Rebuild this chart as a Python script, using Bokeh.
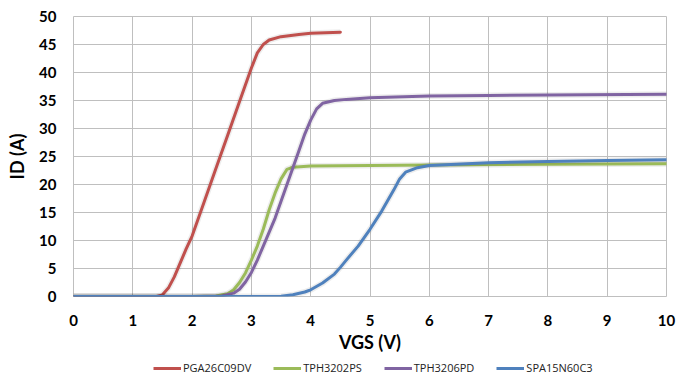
from bokeh.plotting import figure
from bokeh.models import Legend, LegendItem, Range1d, FixedTicker
from bokeh.layouts import column
from bokeh.embed import file_html
from bokeh.resources import INLINE

# ---- data ----
series_names = ["PGA26C09DV", "TPH3202PS", "TPH3206PD", "SPA15N60C3"]
series_colors = ["#C0504D", "#9BBB59", "#8064A2", "#4F81BD"]

pga_x = [0, 1.0, 1.4, 1.5, 1.6, 1.7, 1.8, 1.9, 2.0, 2.2, 2.4, 2.6, 2.8, 3.0, 3.1, 3.2, 3.3, 3.5, 3.8, 4.0, 4.5]
pga_y = [0, 0, 0, 0.3, 1.5, 3.5, 6, 8.5, 10.8, 16.8, 22.8, 28.8, 34.8, 40.8, 43.5, 45, 45.8, 46.4, 46.8, 47.0, 47.2]

tph02_x = [0, 2.0, 2.4, 2.6, 2.7, 2.8, 2.9, 3.0, 3.1, 3.2, 3.3, 3.4, 3.5, 3.6, 3.7, 4.0, 5.0, 6.0, 8.0, 10.0]
tph02_y = [0, 0, 0.1, 0.5, 1.2, 2.5, 4.2, 6.5, 9, 12, 15.5, 18.5, 21, 22.7, 23.1, 23.3, 23.4, 23.5, 23.6, 23.7]

tph06_x = [0, 2.0, 2.5, 2.7, 2.8, 2.9, 3.0, 3.1, 3.2, 3.3, 3.4, 3.5, 3.6, 3.7, 3.8, 3.9, 4.0, 4.1, 4.2, 4.4, 4.6, 5.0, 6.0, 7.0, 8.0, 10.0]
tph06_y = [0, 0, 0.1, 0.6, 1.3, 2.6, 4.3, 6.5, 9, 11.5, 14, 17, 20, 23, 26, 29, 31.5, 33.5, 34.5, 35, 35.2, 35.5, 35.8, 35.9, 36.0, 36.1]

spa_x = [0, 3.0, 3.5, 3.7, 3.9, 4.0, 4.2, 4.4, 4.5, 4.6, 4.8, 5.0, 5.2, 5.4, 5.5, 5.6, 5.8, 6.0, 7.0, 8.0, 9.0, 10.0]
spa_y = [0, 0, 0.05, 0.3, 0.8, 1.2, 2.4, 4.0, 5.2, 6.5, 9, 12, 15.3, 19, 21, 22.2, 23, 23.4, 23.9, 24.1, 24.3, 24.4]

x_ticks = list(range(0, 11))
y_ticks = list(range(0, 51, 5))

series_x = [pga_x, tph02_x, tph06_x, spa_x]
series_y = [pga_y, tph02_y, tph06_y, spa_y]

p = figure(width=678, height=355, output_backend="svg", toolbar_location=None,
           x_range=Range1d(0, 10), y_range=Range1d(0, 50),
           min_border_left=73, min_border_right=12, min_border_top=16, min_border_bottom=58)

for name, col, xs, ys in zip(series_names, series_colors, series_x, series_y):
    p.line(xs, ys, line_color="#000000", line_alpha=0.07, line_width=6, line_join="round")
    p.line(xs, ys, line_color=col, line_width=3, line_join="round", line_cap="round")

p.xaxis.ticker = FixedTicker(ticks=x_ticks)
p.yaxis.ticker = FixedTicker(ticks=y_ticks)
for ax in (p.xaxis[0], p.yaxis[0]):
    ax.axis_line_color = None
    ax.major_tick_line_color = None
    ax.minor_tick_line_color = None
    ax.major_tick_in = 0
    ax.major_tick_out = 0
    ax.major_label_text_font = "Lato"
    ax.major_label_text_font_style = "bold"
    ax.major_label_text_font_size = "15px"
    ax.major_label_text_color = "#000000"
    ax.axis_label_text_font = "Lato"
    ax.axis_label_text_font_style = "bold"
    ax.axis_label_text_font_size = "18px"
    ax.axis_label_text_color = "#000000"

p.xaxis.axis_label = "VGS (V)"
p.yaxis.axis_label = "ID (A)"
p.xaxis.major_label_standoff = 18
p.xaxis.axis_label_standoff = 2
p.yaxis.major_label_standoff = 17
p.yaxis.axis_label_standoff = 8

p.xgrid.grid_line_color = "#BFBFBF"
p.ygrid.grid_line_color = "#BFBFBF"
p.outline_line_color = "#BFBFBF"
p.background_fill_color = "white"
p.border_fill_color = "white"

# legend strip below the chart
lg = figure(width=678, height=23, output_backend="svg", toolbar_location=None,
            x_range=Range1d(0, 1), y_range=Range1d(0, 1),
            x_axis_location=None, y_axis_location=None,
            min_border_left=0, min_border_right=0, min_border_top=0, min_border_bottom=0)
lg.grid.visible = False
lg.outline_line_color = None
items = []
for name, col in zip(series_names, series_colors):
    r = lg.line([-1, -2], [-1, -2], line_color=col, line_width=3)
    items.append(LegendItem(label=name, renderers=[r]))
legend = Legend(items=items, orientation="horizontal", location=(80, 3),
                label_text_font="Open Sans", label_text_font_size="11px",
                label_text_color="#222222", glyph_width=28, glyph_height=12,
                label_height=12, label_standoff=2, spacing=22, padding=0, margin=0,
                border_line_color=None, background_fill_alpha=0)
lg.add_layout(legend)

layout = column(p, lg, spacing=0)
open("out.html", "w").write(file_html(layout, INLINE))
